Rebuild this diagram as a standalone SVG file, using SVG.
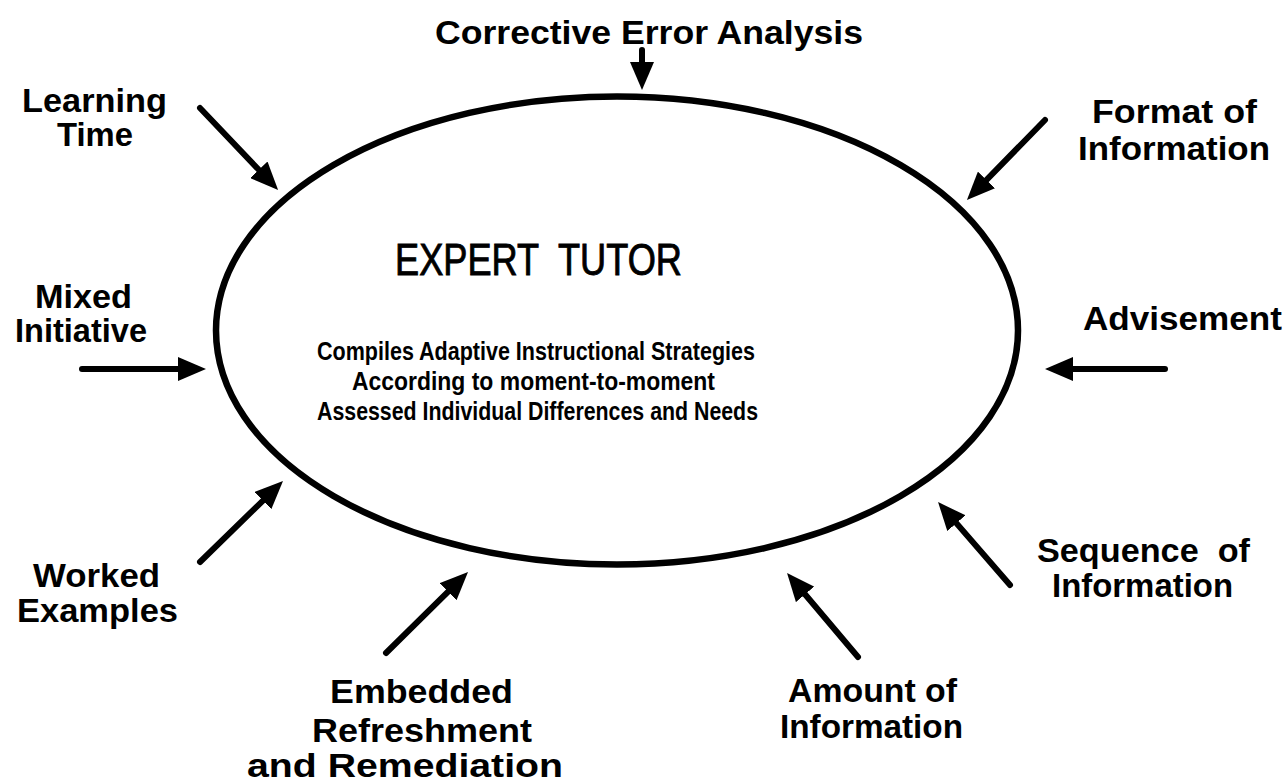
<svg xmlns="http://www.w3.org/2000/svg" width="1287" height="783" viewBox="0 0 1287 783">
  <style>
    .lbl { font-family: "Liberation Sans", Arial, Helvetica, sans-serif; font-weight: bold; font-size: 33px; fill: #000; text-anchor: middle; white-space: pre; }
    .title { font-family: "Liberation Sans", Arial, Helvetica, sans-serif; font-size: 44px; fill: #000; stroke: #000; stroke-width: 0.9; text-anchor: middle; white-space: pre; }
    .sub { font-family: "Liberation Sans", Arial, Helvetica, sans-serif; font-weight: bold; font-size: 25px; fill: #000; text-anchor: middle; }
    .arrow { stroke: #000; stroke-width: 6; stroke-linecap: round; fill: none; marker-end: url(#head); }
  </style>
  <defs>
    <marker id="head" markerUnits="userSpaceOnUse" markerWidth="28" markerHeight="24" refX="9" refY="12" orient="auto">
      <path d="M0,0 L28,12 L0,24 z" fill="#000"/>
    </marker>
  </defs>
  <rect width="1287" height="783" fill="#fff"/>

  <g id="expert-tutor">
    <ellipse cx="617" cy="330.5" rx="401" ry="234" fill="none" stroke="#000" stroke-width="6.5"/>
    <text class="title" x="538.5" y="275" textLength="287" lengthAdjust="spacingAndGlyphs" xml:space="preserve">EXPERT  TUTOR</text>
    <text class="sub" x="536" y="360" textLength="438" lengthAdjust="spacingAndGlyphs">Compiles Adaptive Instructional Strategies</text>
    <text class="sub" x="533.5" y="390" textLength="363" lengthAdjust="spacingAndGlyphs">According to moment-to-moment</text>
    <text class="sub" x="537.5" y="420" textLength="441" lengthAdjust="spacingAndGlyphs">Assessed Individual Differences and Needs</text>
  </g>

  <g id="corrective-error-analysis">
    <text class="lbl" x="649" y="44" textLength="428" lengthAdjust="spacingAndGlyphs">Corrective Error Analysis</text>
  </g>
  <g id="learning-time">
    <text class="lbl" x="94.5" y="112" textLength="145" lengthAdjust="spacingAndGlyphs">Learning</text>
    <text class="lbl" x="95" y="146" textLength="76" lengthAdjust="spacingAndGlyphs">Time</text>
  </g>
  <g id="format-of-information">
    <text class="lbl" x="1174.5" y="123" textLength="165" lengthAdjust="spacingAndGlyphs">Format of</text>
    <text class="lbl" x="1174" y="160" textLength="192" lengthAdjust="spacingAndGlyphs">Information</text>
  </g>
  <g id="mixed-initiative">
    <text class="lbl" x="83.5" y="308" textLength="97" lengthAdjust="spacingAndGlyphs">Mixed</text>
    <text class="lbl" x="81" y="342" textLength="132" lengthAdjust="spacingAndGlyphs">Initiative</text>
  </g>
  <g id="advisement">
    <text class="lbl" x="1182.5" y="330" textLength="199" lengthAdjust="spacingAndGlyphs">Advisement</text>
  </g>
  <g id="worked-examples">
    <text class="lbl" x="96.5" y="587" textLength="127" lengthAdjust="spacingAndGlyphs">Worked</text>
    <text class="lbl" x="97.5" y="622" textLength="161" lengthAdjust="spacingAndGlyphs">Examples</text>
  </g>
  <g id="embedded-refreshment">
    <text class="lbl" x="421.5" y="703" textLength="183" lengthAdjust="spacingAndGlyphs">Embedded</text>
    <text class="lbl" x="422" y="742" textLength="220" lengthAdjust="spacingAndGlyphs">Refreshment</text>
    <text class="lbl" x="405" y="777" textLength="316" lengthAdjust="spacingAndGlyphs">and Remediation</text>
  </g>
  <g id="amount-of-information">
    <text class="lbl" x="872.5" y="702" textLength="169" lengthAdjust="spacingAndGlyphs">Amount of</text>
    <text class="lbl" x="871.5" y="738" textLength="183" lengthAdjust="spacingAndGlyphs">Information</text>
  </g>
  <g id="sequence-of-information">
    <text class="lbl" x="1143.5" y="562" textLength="213" lengthAdjust="spacingAndGlyphs" xml:space="preserve">Sequence  of</text>
    <text class="lbl" x="1142.5" y="597" textLength="181" lengthAdjust="spacingAndGlyphs">Information</text>
  </g>

  <g id="connectors">
    <line class="arrow" x1="642" y1="50" x2="642" y2="71"/>
    <line class="arrow" x1="200" y1="108" x2="265" y2="176.3"/>
    <line class="arrow" x1="1045" y1="120" x2="980.2" y2="186.4"/>
    <line class="arrow" x1="82" y1="369" x2="187" y2="369"/>
    <line class="arrow" x1="1165" y1="369" x2="1064" y2="369"/>
    <line class="arrow" x1="200" y1="562" x2="269.4" y2="494.3"/>
    <line class="arrow" x1="386" y1="653" x2="454.5" y2="585.4"/>
    <line class="arrow" x1="858" y1="657" x2="799.3" y2="587.5"/>
    <line class="arrow" x1="1010" y1="585" x2="950.5" y2="516.4"/>
  </g>
</svg>
